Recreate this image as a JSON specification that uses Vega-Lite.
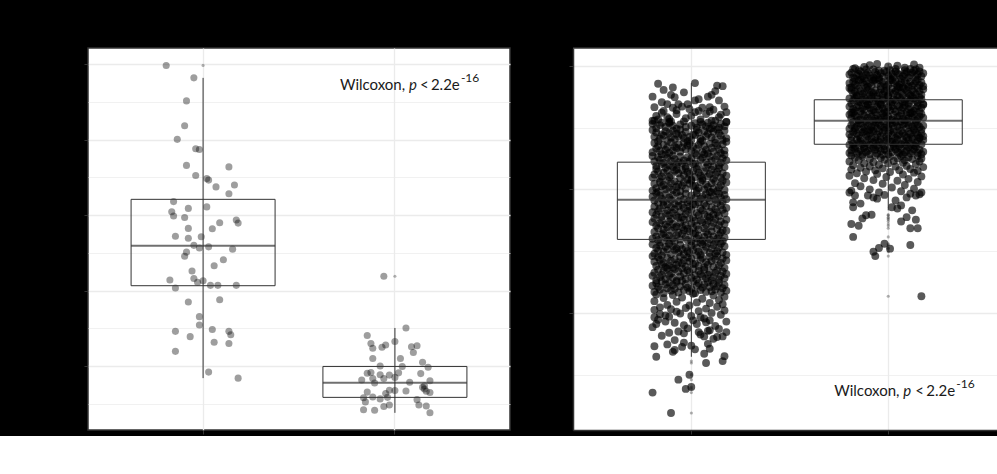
{
"$schema":"https://vega.github.io/schema/vega-lite/v6.json",
"background":"black",
"padding":{"left":82,"top":47,"right":0,"bottom":0},
"spacing":57,
"config":{"view":{"fill":"white","stroke":"#333","strokeWidth":1.5},"axis":{"labels":false,"title":null,"domain":false,"tickColor":"#333","tickSize":4,"gridColor":"#ebebeb"}},
"datasets":{
"lbox":[{"g":"A","lo":168,"q1":413,"med":519,"q3":642,"hi":964},{"g":"B","lo":76,"q1":117,"med":156,"q3":199,"hi":301}],
"lout":[{"g":"A","v":997},{"g":"B","v":438}],
"rbox":[{"g":"A","lo":129,"q1":319,"med":383,"q3":444,"hi":572},{"g":"B","lo":366,"q1":473,"med":511,"q3":545,"hi":603}],
"rout":[{"g":"A","v":122},{"g":"A","v":119},{"g":"A","v":100},{"g":"A","v":92},{"g":"A","v":80},{"g":"A","v":77},{"g":"A","v":71},{"g":"A","v":38},{"g":"B","v":359},{"g":"B","v":358},{"g":"B","v":355},{"g":"B","v":353},{"g":"B","v":351},{"g":"B","v":348},{"g":"B","v":344},{"g":"B","v":341},{"g":"B","v":337},{"g":"B","v":323},{"g":"B","v":312},{"g":"B","v":310},{"g":"B","v":305},{"g":"B","v":304},{"g":"B","v":299},{"g":"B","v":292},{"g":"B","v":227}],
"la":[{"j":-20,"v":997},{"j":-5,"v":964},{"j":-9,"v":903},{"j":-10,"v":837},{"j":-14,"v":801},{"j":-4,"v":776},{"j":-2,"v":774},{"j":-9,"v":732},{"j":14,"v":728},{"j":-4,"v":705},{"j":2,"v":697},{"j":3,"v":693},{"j":7,"v":675},{"j":17,"v":680},{"j":14,"v":657},{"j":-16,"v":636},{"j":-8,"v":618},{"j":2,"v":622},{"j":-17,"v":609},{"j":-16,"v":598},{"j":-10,"v":594},{"j":9,"v":580},{"j":18,"v":587},{"j":19,"v":579},{"j":-8,"v":565},{"j":5,"v":564},{"j":-15,"v":544},{"j":-8,"v":539},{"j":-1,"v":543},{"j":-5,"v":520},{"j":-2,"v":513},{"j":3,"v":516},{"j":16,"v":510},{"j":-9,"v":502},{"j":-10,"v":491},{"j":11,"v":482},{"j":6,"v":466},{"j":-6,"v":452},{"j":-5,"v":432},{"j":-18,"v":428},{"j":-3,"v":422},{"j":0,"v":426},{"j":4,"v":414},{"j":8,"v":414},{"j":18,"v":414},{"j":-15,"v":407},{"j":-8,"v":370},{"j":9,"v":376},{"j":-2,"v":331},{"j":-2,"v":309},{"j":-15,"v":292},{"j":5,"v":297},{"j":14,"v":292},{"j":15,"v":283},{"j":-7,"v":278},{"j":6,"v":263},{"j":14,"v":260},{"j":-15,"v":239},{"j":3,"v":184},{"j":19,"v":168}],
"lb":[{"j":-6,"v":438},{"j":6,"v":301},{"j":-15,"v":281},{"j":-13,"v":260},{"j":-12,"v":247},{"j":-7,"v":250},{"j":-5,"v":256},{"j":0,"v":265},{"j":9,"v":251},{"j":12,"v":254},{"j":10,"v":236},{"j":-12,"v":220},{"j":3,"v":220},{"j":15,"v":210},{"j":-8,"v":200},{"j":4,"v":199},{"j":18,"v":197},{"j":-15,"v":181},{"j":-13,"v":183},{"j":-8,"v":177},{"j":-3,"v":176},{"j":2,"v":182},{"j":14,"v":180},{"j":-18,"v":163},{"j":-12,"v":167},{"j":-6,"v":167},{"j":0,"v":170},{"j":-11,"v":155},{"j":8,"v":157},{"j":19,"v":161},{"j":15,"v":144},{"j":16,"v":139},{"j":-15,"v":131},{"j":-3,"v":136},{"j":0,"v":135},{"j":6,"v":134},{"j":-5,"v":127},{"j":17,"v":133},{"j":19,"v":130},{"j":-17,"v":116},{"j":-12,"v":118},{"j":-8,"v":113},{"j":-4,"v":117},{"j":-16,"v":105},{"j":12,"v":111},{"j":-17,"v":84},{"j":-11,"v":83},{"j":-6,"v":93},{"j":-3,"v":97},{"j":13,"v":97},{"j":17,"v":94},{"j":19,"v":76},{"j":16,"v":148}],
"ra":[
{"j":-17,"v":571},{"j":-14,"v":561},{"j":-9,"v":565},{"j":-3,"v":557},{"j":3,"v":572},{"j":15,"v":568},{"j":18,"v":567},{"j":-20,"v":550},{"j":-10,"v":553},{"j":-8,"v":549},{"j":-15,"v":541},{"j":-12,"v":538},{"j":-6,"v":538},{"j":3,"v":544},{"j":5,"v":546},{"j":10,"v":550},{"j":12,"v":553},{"j":14,"v":559},{"j":16,"v":544},{"j":-19,"v":533},{"j":-14,"v":527},{"j":-9,"v":532},{"j":-4,"v":534},{"j":-1,"v":538},{"j":5,"v":527},{"j":7,"v":532},{"j":11,"v":533},{"j":13,"v":529},{"j":19,"v":534},{"j":20,"v":525},{"j":-18,"v":519},{"j":-12,"v":517},{"j":-7,"v":522},{"j":1,"v":519},{"j":9,"v":522},{"j":16,"v":517},{"j":-20,"v":511},{"j":-11,"v":509},{"j":12,"v":511},{"j":20,"v":509},{"j":-2,"v":515},{"j":6,"v":513},{"j":-15,"v":524},{"j":17,"v":521},{"j":-7,"v":528},{"j":11,"v":526},{"j":0,"v":530},{"j":-17,"v":513},{"j":3,"v":525},{"j":-11,"v":514},
{"j":3,"v":232},{"j":-14,"v":232},{"j":17,"v":233},{"j":-6,"v":233},{"j":9,"v":234},{"j":-19,"v":234},{"j":0,"v":235},{"j":12,"v":235},{"j":-10,"v":236},{"j":20,"v":236},{"j":-3,"v":237},{"j":6,"v":237},{"j":-16,"v":238},{"j":14,"v":238},{"j":-8,"v":239},{"j":1,"v":239},{"j":18,"v":240},{"j":-12,"v":240},{"j":7,"v":241},{"j":-1,"v":241},{"j":-17,"v":242},{"j":11,"v":242},{"j":-5,"v":243},{"j":15,"v":243},{"j":-20,"v":244},{"j":4,"v":244},{"j":-9,"v":245},{"j":19,"v":245},{"j":-13,"v":246},{"j":8,"v":246},{"j":-2,"v":247},{"j":13,"v":247},{"j":-18,"v":248},{"j":5,"v":248},{"j":-11,"v":249},{"j":16,"v":249},{"j":-7,"v":250},{"j":10,"v":250},{"j":-15,"v":251},{"j":2,"v":251},{"j":-4,"v":252},
{"j":-7,"v":252},{"j":12,"v":253},{"j":-18,"v":253},{"j":4,"v":254},{"j":16,"v":254},{"j":-2,"v":255},{"j":-13,"v":255},{"j":9,"v":256},{"j":19,"v":256},{"j":-9,"v":257},{"j":1,"v":257},{"j":-16,"v":258},{"j":13,"v":258},{"j":-5,"v":259},{"j":7,"v":259},{"j":-20,"v":260},{"j":17,"v":260},{"j":-11,"v":261},{"j":3,"v":261},{"j":10,"v":262},{"j":-15,"v":262},{"j":6,"v":263},{"j":20,"v":263},{"j":-3,"v":264},{"j":-10,"v":264},{"j":14,"v":265},{"j":-19,"v":265},{"j":0,"v":266},{"j":11,"v":266},{"j":-6,"v":267},{"j":18,"v":267},{"j":-14,"v":268},{"j":5,"v":268},{"j":-1,"v":269},{"j":15,"v":269},{"j":-17,"v":270},{"j":8,"v":270},{"j":-8,"v":271},{"j":2,"v":271},{"j":-12,"v":272},{"j":-4,"v":272},
{"j":-9,"v":273},{"j":19,"v":273},{"j":-13,"v":274},{"j":8,"v":274},{"j":-2,"v":275},{"j":13,"v":275},{"j":-18,"v":276},{"j":5,"v":276},{"j":-11,"v":277},{"j":16,"v":277},{"j":-7,"v":278},{"j":10,"v":278},{"j":-15,"v":279},{"j":2,"v":279},{"j":-4,"v":280},{"j":3,"v":280},{"j":-14,"v":281},{"j":17,"v":281},{"j":-6,"v":282},{"j":9,"v":282},{"j":-19,"v":283},{"j":0,"v":283},{"j":12,"v":284},{"j":-10,"v":284},{"j":20,"v":285},{"j":-3,"v":285},{"j":6,"v":286},{"j":-16,"v":286},{"j":14,"v":287},{"j":-8,"v":287},{"j":1,"v":288},{"j":18,"v":288},{"j":-12,"v":289},{"j":7,"v":289},{"j":-1,"v":290},{"j":-17,"v":290},{"j":11,"v":291},{"j":-5,"v":291},{"j":15,"v":292},{"j":-20,"v":292},{"j":4,"v":293},
{"j":-15,"v":293},{"j":6,"v":294},{"j":20,"v":294},{"j":-3,"v":295},{"j":-10,"v":295},{"j":14,"v":296},{"j":-19,"v":296},{"j":0,"v":297},{"j":11,"v":297},{"j":-6,"v":298},{"j":18,"v":298},{"j":-14,"v":299},{"j":5,"v":299},{"j":-1,"v":300},{"j":15,"v":300},{"j":-17,"v":301},{"j":8,"v":301},{"j":-8,"v":302},{"j":2,"v":302},{"j":-12,"v":303},{"j":-4,"v":303},{"j":-7,"v":304},{"j":12,"v":304},{"j":-18,"v":305},{"j":4,"v":305},{"j":16,"v":306},{"j":-2,"v":306},{"j":-13,"v":307},{"j":9,"v":307},{"j":19,"v":308},{"j":-9,"v":308},{"j":1,"v":309},{"j":-16,"v":309},{"j":13,"v":310},{"j":-5,"v":310},{"j":7,"v":311},{"j":-20,"v":311},{"j":17,"v":312},{"j":-11,"v":312},{"j":3,"v":313},{"j":10,"v":313},
{"j":6,"v":314},{"j":-16,"v":314},{"j":14,"v":315},{"j":-8,"v":315},{"j":1,"v":316},{"j":18,"v":316},{"j":-12,"v":317},{"j":7,"v":317},{"j":-1,"v":318},{"j":-17,"v":318},{"j":11,"v":319},{"j":-5,"v":319},{"j":15,"v":320},{"j":-20,"v":320},{"j":4,"v":321},{"j":-9,"v":321},{"j":19,"v":322},{"j":-13,"v":322},{"j":8,"v":323},{"j":-2,"v":323},{"j":13,"v":324},{"j":-18,"v":324},{"j":5,"v":325},{"j":-11,"v":325},{"j":16,"v":326},{"j":-7,"v":326},{"j":10,"v":327},{"j":-15,"v":327},{"j":2,"v":328},{"j":-4,"v":328},{"j":3,"v":329},{"j":-14,"v":329},{"j":17,"v":330},{"j":-6,"v":330},{"j":9,"v":331},{"j":-19,"v":331},{"j":0,"v":332},{"j":12,"v":332},{"j":-10,"v":333},{"j":20,"v":333},{"j":-3,"v":334},
{"j":18,"v":334},{"j":-14,"v":335},{"j":5,"v":335},{"j":-1,"v":336},{"j":15,"v":336},{"j":-17,"v":337},{"j":8,"v":337},{"j":-8,"v":338},{"j":2,"v":338},{"j":-12,"v":339},{"j":-4,"v":339},{"j":-7,"v":340},{"j":12,"v":340},{"j":-18,"v":341},{"j":4,"v":341},{"j":16,"v":342},{"j":-2,"v":342},{"j":-13,"v":343},{"j":9,"v":343},{"j":19,"v":344},{"j":-9,"v":344},{"j":1,"v":345},{"j":-16,"v":345},{"j":13,"v":346},{"j":-5,"v":346},{"j":7,"v":347},{"j":-20,"v":347},{"j":17,"v":348},{"j":-11,"v":348},{"j":3,"v":349},{"j":10,"v":349},{"j":-15,"v":350},{"j":6,"v":350},{"j":20,"v":351},{"j":-3,"v":351},{"j":-10,"v":352},{"j":14,"v":352},{"j":-19,"v":353},{"j":0,"v":353},{"j":11,"v":354},{"j":-6,"v":354},
{"j":-4,"v":355},{"j":2,"v":355},{"j":-15,"v":356},{"j":10,"v":356},{"j":-7,"v":357},{"j":16,"v":357},{"j":-11,"v":358},{"j":5,"v":358},{"j":-18,"v":359},{"j":13,"v":359},{"j":-2,"v":360},{"j":8,"v":360},{"j":-13,"v":361},{"j":19,"v":361},{"j":-9,"v":362},{"j":4,"v":362},{"j":-20,"v":363},{"j":15,"v":363},{"j":-5,"v":364},{"j":11,"v":364},{"j":-17,"v":365},{"j":-1,"v":365},{"j":7,"v":366},{"j":-12,"v":366},{"j":18,"v":367},{"j":1,"v":367},{"j":-8,"v":368},{"j":14,"v":368},{"j":-16,"v":369},{"j":6,"v":369},{"j":-3,"v":370},{"j":20,"v":370},{"j":-10,"v":371},{"j":12,"v":371},{"j":0,"v":372},{"j":-19,"v":372},{"j":9,"v":373},{"j":-6,"v":373},{"j":17,"v":374},{"j":-14,"v":374},{"j":3,"v":375},
{"j":-4,"v":375},{"j":-12,"v":376},{"j":2,"v":376},{"j":-8,"v":377},{"j":8,"v":377},{"j":-17,"v":378},{"j":15,"v":378},{"j":-1,"v":379},{"j":5,"v":379},{"j":-14,"v":380},{"j":18,"v":380},{"j":-6,"v":381},{"j":11,"v":381},{"j":0,"v":382},{"j":-19,"v":382},{"j":14,"v":383},{"j":-10,"v":383},{"j":-3,"v":384},{"j":20,"v":384},{"j":6,"v":385},{"j":-15,"v":385},{"j":10,"v":386},{"j":3,"v":386},{"j":-11,"v":387},{"j":17,"v":387},{"j":-20,"v":388},{"j":7,"v":388},{"j":-5,"v":389},{"j":13,"v":389},{"j":-16,"v":390},{"j":1,"v":390},{"j":-9,"v":391},{"j":19,"v":391},{"j":9,"v":392},{"j":-13,"v":392},{"j":-2,"v":393},{"j":16,"v":393},{"j":4,"v":394},{"j":-18,"v":394},{"j":12,"v":395},{"j":-7,"v":395},
{"j":-17,"v":396},{"j":11,"v":396},{"j":-5,"v":397},{"j":15,"v":397},{"j":-20,"v":398},{"j":4,"v":398},{"j":-9,"v":399},{"j":19,"v":399},{"j":-13,"v":400},{"j":8,"v":400},{"j":-2,"v":401},{"j":13,"v":401},{"j":-18,"v":402},{"j":5,"v":402},{"j":-11,"v":403},{"j":16,"v":403},{"j":-7,"v":404},{"j":10,"v":404},{"j":-15,"v":405},{"j":2,"v":405},{"j":-4,"v":406},{"j":3,"v":406},{"j":-14,"v":407},{"j":17,"v":407},{"j":-6,"v":408},{"j":9,"v":408},{"j":-19,"v":409},{"j":0,"v":409},{"j":12,"v":410},{"j":-10,"v":410},{"j":20,"v":411},{"j":-3,"v":411},{"j":6,"v":412},{"j":-16,"v":412},{"j":14,"v":413},{"j":-8,"v":413},{"j":1,"v":414},{"j":18,"v":414},{"j":-12,"v":415},{"j":7,"v":415},{"j":-1,"v":416},
{"j":1,"v":416},{"j":-16,"v":417},{"j":13,"v":417},{"j":-5,"v":418},{"j":7,"v":418},{"j":-20,"v":419},{"j":17,"v":419},{"j":-11,"v":420},{"j":3,"v":420},{"j":10,"v":421},{"j":-15,"v":421},{"j":6,"v":422},{"j":20,"v":422},{"j":-3,"v":423},{"j":-10,"v":423},{"j":14,"v":424},{"j":-19,"v":424},{"j":0,"v":425},{"j":11,"v":425},{"j":-6,"v":426},{"j":18,"v":426},{"j":-14,"v":427},{"j":5,"v":427},{"j":-1,"v":428},{"j":15,"v":428},{"j":-17,"v":429},{"j":8,"v":429},{"j":-8,"v":430},{"j":2,"v":430},{"j":-12,"v":431},{"j":-4,"v":431},{"j":-7,"v":432},{"j":12,"v":432},{"j":-18,"v":433},{"j":4,"v":433},{"j":16,"v":434},{"j":-2,"v":434},{"j":-13,"v":435},{"j":9,"v":435},{"j":19,"v":436},{"j":-9,"v":436},
{"j":-2,"v":437},{"j":13,"v":437},{"j":-18,"v":438},{"j":5,"v":438},{"j":-11,"v":439},{"j":16,"v":439},{"j":-7,"v":440},{"j":10,"v":440},{"j":-15,"v":441},{"j":2,"v":441},{"j":-4,"v":442},{"j":3,"v":442},{"j":-14,"v":443},{"j":17,"v":443},{"j":-6,"v":444},{"j":9,"v":444},{"j":-19,"v":445},{"j":0,"v":445},{"j":12,"v":446},{"j":-10,"v":446},{"j":20,"v":447},{"j":-3,"v":447},{"j":6,"v":448},{"j":-16,"v":448},{"j":14,"v":449},{"j":-8,"v":449},{"j":1,"v":450},{"j":18,"v":450},{"j":-12,"v":451},{"j":7,"v":451},{"j":-1,"v":452},{"j":-17,"v":452},{"j":11,"v":453},{"j":-5,"v":453},{"j":15,"v":454},{"j":-20,"v":454},{"j":4,"v":455},{"j":-9,"v":455},{"j":19,"v":456},{"j":-13,"v":456},{"j":8,"v":457},
{"j":-15,"v":457},{"j":10,"v":458},{"j":3,"v":458},{"j":-11,"v":459},{"j":17,"v":459},{"j":-20,"v":460},{"j":7,"v":460},{"j":-5,"v":461},{"j":13,"v":461},{"j":-16,"v":462},{"j":1,"v":462},{"j":-9,"v":463},{"j":19,"v":463},{"j":9,"v":464},{"j":-13,"v":464},{"j":-2,"v":465},{"j":16,"v":465},{"j":4,"v":466},{"j":-18,"v":466},{"j":12,"v":467},{"j":-7,"v":467},{"j":-4,"v":468},{"j":-12,"v":468},{"j":2,"v":469},{"j":-8,"v":469},{"j":8,"v":470},{"j":-17,"v":470},{"j":15,"v":471},{"j":-1,"v":471},{"j":5,"v":472},{"j":-14,"v":472},{"j":18,"v":473},{"j":-6,"v":473},{"j":11,"v":474},{"j":0,"v":474},{"j":-19,"v":475},{"j":14,"v":475},{"j":-10,"v":476},{"j":-3,"v":476},{"j":20,"v":477},{"j":6,"v":477},
{"j":-17,"v":478},{"j":-1,"v":478},{"j":7,"v":479},{"j":-12,"v":479},{"j":18,"v":480},{"j":1,"v":480},{"j":-8,"v":481},{"j":14,"v":481},{"j":-16,"v":482},{"j":6,"v":482},{"j":-3,"v":483},{"j":20,"v":483},{"j":-10,"v":484},{"j":12,"v":484},{"j":0,"v":485},{"j":-19,"v":485},{"j":9,"v":486},{"j":-6,"v":486},{"j":17,"v":487},{"j":-14,"v":487},{"j":3,"v":488},{"j":-4,"v":488},{"j":2,"v":489},{"j":-15,"v":489},{"j":10,"v":490},{"j":-7,"v":490},{"j":16,"v":491},{"j":-11,"v":491},{"j":5,"v":492},{"j":-18,"v":492},{"j":13,"v":493},{"j":-2,"v":493},{"j":8,"v":494},{"j":-13,"v":494},{"j":19,"v":495},{"j":-9,"v":495},{"j":4,"v":496},{"j":-20,"v":496},{"j":15,"v":497},{"j":-5,"v":497},{"j":11,"v":498},
{"j":-7,"v":498},{"j":12,"v":499},{"j":-18,"v":499},{"j":4,"v":500},{"j":16,"v":500},{"j":-2,"v":501},{"j":-13,"v":501},{"j":9,"v":502},{"j":19,"v":502},{"j":-9,"v":503},{"j":1,"v":503},{"j":-16,"v":504},{"j":13,"v":504},{"j":-5,"v":505},{"j":7,"v":505},{"j":-20,"v":506},{"j":17,"v":506},{"j":-11,"v":507},{"j":3,"v":507},{"j":10,"v":508},{"j":-15,"v":508},{"j":6,"v":509},{"j":20,"v":509},{"j":-3,"v":510},{"j":-10,"v":510},{"j":14,"v":511},{"j":-19,"v":511},
{"j":-18,"v":230},{"j":-9,"v":229},{"j":2,"v":231},{"j":13,"v":228},{"j":19,"v":226},{"j":-14,"v":224},{"j":-4,"v":225},{"j":7,"v":223},{"j":16,"v":221},{"j":-19,"v":219},{"j":-7,"v":218},{"j":4,"v":217},{"j":11,"v":216},{"j":-12,"v":213},{"j":0,"v":212},{"j":18,"v":214},{"j":-16,"v":209},{"j":-2,"v":208},{"j":9,"v":207},{"j":15,"v":210},{"j":-10,"v":206},{"j":5,"v":203},{"j":-19,"v":205},{"j":12,"v":200},{"j":-5,"v":199},{"j":17,"v":197},{"j":-13,"v":196},{"j":1,"v":195},{"j":8,"v":191},{"j":-17,"v":189},{"j":20,"v":186},{"j":-8,"v":184},{"j":4,"v":182},{"j":14,"v":179},{"j":-20,"v":177},{"j":-1,"v":175},{"j":11,"v":172},{"j":-6,"v":170},{"j":6,"v":165},{"j":-15,"v":163},{"j":-3,"v":152},{"j":10,"v":150},{"j":-12,"v":149},{"j":1,"v":147},{"j":-8,"v":140},
{"j":16,"v":174},{"j":20,"v":169},{"j":15,"v":161},{"j":13,"v":158},{"j":18,"v":162},{"j":10,"v":171},{"j":8,"v":162},{"j":5,"v":169},{"j":-3,"v":167},{"j":-8,"v":156},{"j":-11,"v":168},{"j":-18,"v":182},{"j":-13,"v":186},{"j":-3,"v":180},{"j":11,"v":188},{"j":19,"v":204},{"j":-19,"v":193},{"j":-16,"v":198},{"j":-11,"v":194},{"j":-7,"v":202},{"j":2,"v":188},{"j":6,"v":193},{"j":9,"v":185},
{"j":-19,"v":146},{"j":-18,"v":129},{"j":-9,"v":137},{"j":-4,"v":145},{"j":3,"v":141},{"j":11,"v":142},{"j":8,"v":134},{"j":9,"v":119},{"j":18,"v":122},{"j":19,"v":130},{"j":-6,"v":92},{"j":0,"v":100},{"j":-2,"v":77},{"j":1,"v":80},{"j":-20,"v":71},{"j":-10,"v":38}],
"rb":[
{"j":-2,"v":456},{"j":-13,"v":456},{"j":9,"v":456},{"j":19,"v":457},{"j":-9,"v":457},{"j":1,"v":457},{"j":-16,"v":458},{"j":13,"v":458},{"j":-5,"v":458},{"j":7,"v":459},{"j":-20,"v":459},{"j":17,"v":459},{"j":-11,"v":460},{"j":3,"v":460},{"j":10,"v":460},{"j":-15,"v":461},{"j":6,"v":461},{"j":20,"v":461},{"j":-3,"v":462},{"j":-10,"v":462},{"j":14,"v":462},{"j":-19,"v":463},{"j":0,"v":463},{"j":11,"v":463},{"j":-6,"v":464},{"j":18,"v":464},{"j":-14,"v":464},{"j":5,"v":465},{"j":-1,"v":465},{"j":15,"v":465},{"j":-17,"v":466},{"j":8,"v":466},{"j":-8,"v":466},{"j":2,"v":467},{"j":-12,"v":467},{"j":-4,"v":467},{"j":-7,"v":468},{"j":12,"v":468},{"j":-18,"v":468},{"j":4,"v":469},{"j":16,"v":469},{"j":-12,"v":469},
{"j":7,"v":470},{"j":-1,"v":470},{"j":-17,"v":470},{"j":11,"v":471},{"j":-5,"v":471},{"j":15,"v":471},{"j":-20,"v":472},{"j":4,"v":472},{"j":-9,"v":472},{"j":19,"v":473},{"j":-13,"v":473},{"j":8,"v":473},{"j":-2,"v":474},{"j":13,"v":474},{"j":-18,"v":474},{"j":5,"v":475},{"j":-11,"v":475},{"j":16,"v":475},{"j":-7,"v":476},{"j":10,"v":476},{"j":-15,"v":476},{"j":2,"v":477},{"j":-4,"v":477},{"j":3,"v":477},{"j":-14,"v":478},{"j":17,"v":478},{"j":-6,"v":478},{"j":9,"v":479},{"j":-19,"v":479},{"j":0,"v":479},{"j":12,"v":480},{"j":-10,"v":480},{"j":20,"v":480},{"j":-3,"v":481},{"j":6,"v":481},{"j":-16,"v":481},{"j":14,"v":482},{"j":-8,"v":482},{"j":1,"v":482},{"j":18,"v":483},{"j":5,"v":483},{"j":-14,"v":483},
{"j":18,"v":484},{"j":-6,"v":484},{"j":11,"v":484},{"j":0,"v":485},{"j":-19,"v":485},{"j":14,"v":485},{"j":-10,"v":486},{"j":-3,"v":486},{"j":20,"v":486},{"j":6,"v":487},{"j":-15,"v":487},{"j":10,"v":487},{"j":3,"v":488},{"j":-11,"v":488},{"j":17,"v":488},{"j":-20,"v":489},{"j":7,"v":489},{"j":-5,"v":489},{"j":13,"v":490},{"j":-16,"v":490},{"j":1,"v":490},{"j":-9,"v":491},{"j":19,"v":491},{"j":9,"v":491},{"j":-13,"v":492},{"j":-2,"v":492},{"j":16,"v":492},{"j":4,"v":493},{"j":-18,"v":493},{"j":12,"v":493},{"j":-7,"v":494},{"j":-4,"v":494},{"j":-12,"v":494},{"j":2,"v":495},{"j":-8,"v":495},{"j":8,"v":495},{"j":-17,"v":496},{"j":15,"v":496},{"j":-1,"v":496},
{"j":-13,"v":497},{"j":19,"v":497},{"j":-9,"v":497},{"j":4,"v":498},{"j":-20,"v":498},{"j":15,"v":498},{"j":-5,"v":499},{"j":11,"v":499},{"j":-17,"v":499},{"j":-1,"v":500},{"j":7,"v":500},{"j":-12,"v":500},{"j":18,"v":501},{"j":1,"v":501},{"j":-8,"v":501},{"j":14,"v":502},{"j":-16,"v":502},{"j":6,"v":502},{"j":-3,"v":503},{"j":20,"v":503},{"j":-10,"v":503},{"j":12,"v":504},{"j":0,"v":504},{"j":-19,"v":504},{"j":9,"v":505},{"j":-6,"v":505},{"j":17,"v":505},{"j":-14,"v":506},{"j":3,"v":506},{"j":-4,"v":506},{"j":2,"v":507},{"j":-15,"v":507},{"j":10,"v":507},{"j":-7,"v":508},{"j":16,"v":508},{"j":-11,"v":508},{"j":5,"v":509},{"j":-18,"v":509},{"j":13,"v":509},{"j":-2,"v":510},{"j":8,"v":510},{"j":5,"v":510},
{"j":-11,"v":511},{"j":16,"v":511},{"j":-7,"v":511},{"j":10,"v":512},{"j":-15,"v":512},{"j":2,"v":512},{"j":-4,"v":513},{"j":3,"v":513},{"j":-14,"v":513},{"j":17,"v":514},{"j":-6,"v":514},{"j":9,"v":514},{"j":-19,"v":515},{"j":0,"v":515},{"j":12,"v":515},{"j":-10,"v":516},{"j":20,"v":516},{"j":-3,"v":516},{"j":6,"v":517},{"j":-16,"v":517},{"j":14,"v":517},{"j":-8,"v":518},{"j":1,"v":518},{"j":18,"v":518},{"j":-12,"v":519},{"j":7,"v":519},{"j":-1,"v":519},{"j":-17,"v":520},{"j":11,"v":520},{"j":-5,"v":520},{"j":15,"v":521},{"j":-20,"v":521},{"j":4,"v":521},{"j":-9,"v":522},{"j":19,"v":522},{"j":-13,"v":522},{"j":8,"v":523},{"j":-2,"v":523},{"j":13,"v":523},
{"j":-18,"v":524},{"j":14,"v":524},{"j":-19,"v":524},{"j":0,"v":525},{"j":11,"v":525},{"j":-6,"v":525},{"j":18,"v":526},{"j":-14,"v":526},{"j":5,"v":526},{"j":-1,"v":527},{"j":15,"v":527},{"j":-17,"v":527},{"j":8,"v":528},{"j":-8,"v":528},{"j":2,"v":528},{"j":-12,"v":529},{"j":-4,"v":529},{"j":-7,"v":529},{"j":12,"v":530},{"j":-18,"v":530},{"j":4,"v":530},{"j":16,"v":531},{"j":-2,"v":531},{"j":-13,"v":531},{"j":9,"v":532},{"j":19,"v":532},{"j":-9,"v":532},{"j":1,"v":533},{"j":-16,"v":533},{"j":13,"v":533},{"j":-5,"v":534},{"j":7,"v":534},{"j":-20,"v":534},{"j":17,"v":535},{"j":-11,"v":535},{"j":3,"v":535},{"j":10,"v":536},{"j":-15,"v":536},{"j":6,"v":536},{"j":20,"v":537},{"j":-3,"v":537},{"j":-10,"v":537},
{"j":-3,"v":538},{"j":20,"v":538},{"j":-10,"v":538},{"j":12,"v":539},{"j":0,"v":539},{"j":-19,"v":539},{"j":9,"v":540},{"j":-6,"v":540},{"j":17,"v":540},{"j":-14,"v":541},{"j":3,"v":541},{"j":-4,"v":541},{"j":2,"v":542},{"j":-15,"v":542},{"j":10,"v":542},{"j":-7,"v":543},{"j":16,"v":543},{"j":-11,"v":543},{"j":5,"v":544},{"j":-18,"v":544},{"j":13,"v":544},{"j":-2,"v":545},{"j":8,"v":545},{"j":-13,"v":545},{"j":19,"v":546},{"j":-9,"v":546},{"j":4,"v":546},{"j":-20,"v":547},{"j":15,"v":547},{"j":-5,"v":547},{"j":11,"v":548},{"j":-17,"v":548},{"j":-1,"v":548},{"j":7,"v":549},{"j":-12,"v":549},{"j":18,"v":549},{"j":1,"v":550},{"j":-8,"v":550},{"j":14,"v":550},{"j":-16,"v":551},{"j":6,"v":551},{"j":-5,"v":551},
{"j":13,"v":552},{"j":-16,"v":552},{"j":1,"v":552},{"j":-9,"v":553},{"j":19,"v":553},{"j":9,"v":553},{"j":-13,"v":554},{"j":-2,"v":554},{"j":16,"v":554},{"j":4,"v":555},{"j":-18,"v":555},{"j":12,"v":555},{"j":-7,"v":556},{"j":-4,"v":556},{"j":-12,"v":556},{"j":2,"v":557},{"j":-8,"v":557},{"j":8,"v":557},{"j":-17,"v":558},{"j":15,"v":558},{"j":-1,"v":558},{"j":5,"v":559},{"j":-14,"v":559},{"j":18,"v":559},{"j":-6,"v":560},{"j":11,"v":560},{"j":0,"v":560},{"j":-19,"v":561},{"j":14,"v":561},{"j":-10,"v":561},{"j":-3,"v":562},{"j":20,"v":562},{"j":6,"v":562},{"j":-15,"v":563},{"j":10,"v":563},{"j":3,"v":563},{"j":-11,"v":564},{"j":17,"v":564},{"j":-20,"v":564},
{"j":7,"v":565},{"j":9,"v":565},{"j":-19,"v":565},{"j":0,"v":566},{"j":12,"v":566},{"j":-10,"v":566},{"j":20,"v":567},{"j":-3,"v":567},{"j":6,"v":567},{"j":-16,"v":568},{"j":14,"v":568},{"j":-8,"v":568},{"j":1,"v":569},{"j":18,"v":569},{"j":-12,"v":569},{"j":7,"v":570},{"j":-1,"v":570},{"j":-17,"v":570},{"j":11,"v":571},{"j":-5,"v":571},{"j":15,"v":571},{"j":-20,"v":572},{"j":4,"v":572},{"j":-9,"v":572},{"j":19,"v":573},{"j":-13,"v":573},{"j":8,"v":573},{"j":-2,"v":574},{"j":13,"v":574},{"j":-18,"v":574},{"j":5,"v":575},{"j":-11,"v":575},{"j":16,"v":575},{"j":-7,"v":576},{"j":10,"v":576},{"j":-15,"v":576},{"j":2,"v":577},{"j":-4,"v":577},{"j":3,"v":577},{"j":-14,"v":578},{"j":17,"v":578},{"j":-6,"v":578},
{"j":-17,"v":579},{"j":8,"v":579},{"j":-8,"v":579},{"j":2,"v":580},{"j":-12,"v":580},{"j":-4,"v":580},{"j":-7,"v":581},{"j":12,"v":581},{"j":-18,"v":581},{"j":4,"v":582},{"j":16,"v":582},{"j":-2,"v":582},{"j":-13,"v":583},{"j":9,"v":583},{"j":19,"v":583},{"j":-9,"v":584},{"j":1,"v":584},{"j":-16,"v":584},{"j":13,"v":585},{"j":-5,"v":585},{"j":7,"v":585},{"j":-20,"v":586},{"j":17,"v":586},{"j":-11,"v":586},{"j":3,"v":587},{"j":10,"v":587},{"j":-15,"v":587},{"j":6,"v":588},{"j":20,"v":588},{"j":-3,"v":588},{"j":-10,"v":589},{"j":14,"v":589},{"j":-19,"v":589},{"j":0,"v":590},{"j":11,"v":590},{"j":-6,"v":590},{"j":18,"v":591},{"j":-14,"v":591},{"j":5,"v":591},{"j":-1,"v":592},{"j":15,"v":592},{"j":-4,"v":592},
{"j":2,"v":593},{"j":-15,"v":593},{"j":10,"v":593},{"j":-7,"v":594},{"j":16,"v":594},{"j":-11,"v":594},{"j":5,"v":595},{"j":-18,"v":595},{"j":13,"v":595},
{"j":-12,"v":598},{"j":6,"v":600},{"j":15,"v":602},{"j":-5,"v":603},{"j":18,"v":597},{"j":-17,"v":596},{"j":1,"v":599},{"j":10,"v":597},{"j":-9,"v":601},
{"j":-19,"v":455},{"j":-6,"v":455},{"j":8,"v":454},{"j":17,"v":454},{"j":-13,"v":453},{"j":2,"v":453},{"j":12,"v":452},{"j":-3,"v":451},{"j":-17,"v":451},{"j":19,"v":450},{"j":6,"v":450},{"j":-9,"v":449},{"j":14,"v":449},
{"j":-1,"v":448},{"j":-15,"v":447},{"j":10,"v":447},{"j":4,"v":446},{"j":-20,"v":445},{"j":18,"v":445},{"j":-7,"v":444},{"j":9,"v":443},{"j":-12,"v":442},{"j":1,"v":442},{"j":16,"v":441},{"j":-4,"v":440},{"j":-18,"v":439},{"j":11,"v":438},{"j":-9,"v":437},{"j":5,"v":437},{"j":20,"v":436},{"j":-14,"v":435},{"j":-2,"v":434},{"j":13,"v":433},{"j":-19,"v":432},{"j":7,"v":431},{"j":-6,"v":431},{"j":17,"v":430},{"j":-11,"v":429},{"j":2,"v":428},{"j":15,"v":427},{"j":-16,"v":426},{"j":-5,"v":425},{"j":9,"v":424},
{"j":-20,"v":422},{"j":19,"v":421},{"j":0,"v":420},{"j":-12,"v":418},{"j":12,"v":417},{"j":-7,"v":415},{"j":6,"v":414},{"j":17,"v":412},{"j":-17,"v":410},{"j":-2,"v":409},{"j":10,"v":407},{"j":-14,"v":405},{"j":3,"v":403},{"j":15,"v":401},{"j":-9,"v":400},{"j":-19,"v":398},{"j":8,"v":397},{"j":-4,"v":395},{"j":13,"v":393},{"j":18,"v":392},{"j":-1,"v":391},
{"j":-18,"v":323},{"j":-7,"v":299},{"j":-4,"v":305},{"j":-6,"v":292},{"j":-1,"v":312},{"j":2,"v":304},{"j":13,"v":310},{"j":-19,"v":344},{"j":-15,"v":341},{"j":-13,"v":353},{"j":-11,"v":358},{"j":-8,"v":359},{"j":8,"v":348},{"j":11,"v":355},{"j":13,"v":337},{"j":16,"v":351},{"j":17,"v":337},{"j":6,"v":369},{"j":3,"v":371},{"j":-18,"v":371},{"j":-18,"v":379},{"j":-14,"v":377},{"j":-5,"v":385},{"j":11,"v":387},{"j":16,"v":390},{"j":19,"v":395},{"j":-20,"v":395},{"j":-17,"v":390},{"j":-10,"v":390},{"j":-7,"v":387},{"j":5,"v":382},{"j":8,"v":374},{"j":14,"v":366},{"j":19,"v":227}]
},
"hconcat":[
{"width":422,"height":382,
"layer":[
{"data":{"name":"la"},"mark":{"type":"circle","size":50,"color":"black","opacity":0.38},"encoding":{"x":{"datum":"A","type":"nominal"},"xOffset":{"field":"j","type":"quantitative","scale":{"domain":[-37.5,37.5],"nice":false,"zero":false}},"y":{"field":"v","type":"quantitative"}}},
{"data":{"name":"lb"},"mark":{"type":"circle","size":50,"color":"black","opacity":0.38},"encoding":{"x":{"datum":"B","type":"nominal"},"xOffset":{"field":"j","type":"quantitative"},"y":{"field":"v","type":"quantitative"}}},
{"data":{"name":"lbox"},"mark":{"type":"rule","color":"#333","strokeWidth":1},
"encoding":{"x":{"field":"g","type":"nominal","scale":{"type":"band","paddingInner":0.25,"paddingOuter":0.225},"axis":{"grid":true,"gridWidth":1.3,"bandPosition":0.5,"ticks":true}},
"y":{"field":"lo","type":"quantitative","scale":{"domain":[30.5,1043.2],"nice":false,"zero":false},"axis":{"values":[100,200,300,400,500,600,700,800,900,1000],"grid":true,"gridWidth":{"condition":{"test":"datum.value % 200 === 0","value":1.3},"value":0.7},"tickOpacity":{"condition":{"test":"datum.value % 200 === 0","value":1},"value":0}}},
"y2":{"field":"hi"}}},
{"data":{"name":"lbox"},"mark":{"type":"bar","filled":false,"color":"#333","strokeWidth":1,"width":144},"encoding":{"x":{"field":"g","type":"nominal"},"y":{"field":"q1","type":"quantitative"},"y2":{"field":"q3"}}},
{"data":{"name":"lbox"},"mark":{"type":"tick","color":"#333","thickness":2,"size":144},"encoding":{"x":{"field":"g","type":"nominal"},"y":{"field":"med","type":"quantitative"}}},
{"data":{"name":"lout"},"mark":{"type":"circle","size":10,"color":"black","opacity":0.3},"encoding":{"x":{"field":"g","type":"nominal"},"y":{"field":"v","type":"quantitative"}}},
{"data":{"values":[{"t":"Wilcoxon,"}]},"mark":{"type":"text","font":"Lato","fontSize":15,"color":"#1a1a1a","align":"left","baseline":"alphabetic","dx":-55},"encoding":{"text":{"field":"t"},"x":{"datum":"B","type":"nominal"},"y":{"datum":933,"type":"quantitative"}}},
{"data":{"values":[{"t":"p"}]},"mark":{"type":"text","font":"Lato","fontSize":15,"fontStyle":"italic","color":"#1a1a1a","align":"left","baseline":"alphabetic","dx":14},"encoding":{"text":{"field":"t"},"x":{"datum":"B","type":"nominal"},"y":{"datum":933,"type":"quantitative"}}},
{"data":{"values":[{"t":"<"}]},"mark":{"type":"text","font":"Lato","fontSize":15,"color":"#1a1a1a","align":"left","baseline":"alphabetic","dx":25},"encoding":{"text":{"field":"t"},"x":{"datum":"B","type":"nominal"},"y":{"datum":933,"type":"quantitative"}}},
{"data":{"values":[{"t":"2.2e"}]},"mark":{"type":"text","font":"Lato","fontSize":15,"color":"#1a1a1a","align":"left","baseline":"alphabetic","dx":36},"encoding":{"text":{"field":"t"},"x":{"datum":"B","type":"nominal"},"y":{"datum":933,"type":"quantitative"}}},
{"data":{"values":[{"t":"-16"}]},"mark":{"type":"text","font":"Lato","fontSize":12,"color":"#1a1a1a","align":"left","baseline":"alphabetic","dx":66,"dy":-8},"encoding":{"text":{"field":"t"},"x":{"datum":"B","type":"nominal"},"y":{"datum":933,"type":"quantitative"}}}
]},
{"width":424,"height":382,"view":{"stroke":null},
"layer":[
{"data":{"name":"ra"},"mark":{"type":"circle","size":62,"color":"black","opacity":0.65},"encoding":{"x":{"datum":"A","type":"nominal"},"xOffset":{"field":"j","type":"quantitative","scale":{"domain":[-39,39],"nice":false,"zero":false}},"y":{"field":"v","type":"quantitative"}}},
{"data":{"name":"rb"},"mark":{"type":"circle","size":62,"color":"black","opacity":0.65},"encoding":{"x":{"datum":"B","type":"nominal"},"xOffset":{"field":"j","type":"quantitative"},"y":{"field":"v","type":"quantitative"}}},
{"data":{"name":"rbox"},"mark":{"type":"rule","color":"#333","strokeWidth":1},
"encoding":{"x":{"field":"g","type":"nominal","scale":{"type":"band","paddingInner":0.25,"paddingOuter":0.2017,"align":0.5605},"axis":{"grid":true,"gridWidth":1.3,"bandPosition":0.5,"domain":true,"domainColor":"#333","domainWidth":1.5}},
"y":{"field":"lo","type":"quantitative","scale":{"domain":[10.5,628.8],"nice":false,"zero":false},"axis":{"values":[100,200,300,400,500,600],"grid":true,"domain":true,"domainColor":"#333","domainWidth":1.5,"gridWidth":{"condition":{"test":"datum.value % 200 === 0","value":1.3},"value":0.7},"tickOpacity":{"condition":{"test":"datum.value % 200 === 0","value":1},"value":0}}},
"y2":{"field":"hi"}}},
{"data":{"values":[{}]},"mark":{"type":"rule","color":"#333","strokeWidth":1.5},"encoding":{"y":{"datum":628.8,"type":"quantitative"}}},
{"data":{"name":"rbox"},"mark":{"type":"bar","filled":false,"color":"#333","strokeWidth":1,"width":148},"encoding":{"x":{"field":"g","type":"nominal"},"y":{"field":"q1","type":"quantitative"},"y2":{"field":"q3"}}},
{"data":{"name":"rbox"},"mark":{"type":"tick","color":"#333","thickness":2,"size":148},"encoding":{"x":{"field":"g","type":"nominal"},"y":{"field":"med","type":"quantitative"}}},
{"data":{"name":"rout"},"mark":{"type":"circle","size":10,"color":"black","opacity":0.3},"encoding":{"x":{"field":"g","type":"nominal"},"y":{"field":"v","type":"quantitative"}}},
{"data":{"values":[{"t":"Wilcoxon,"}]},"mark":{"type":"text","font":"Lato","fontSize":15,"color":"#1a1a1a","align":"left","baseline":"alphabetic","dx":-54},"encoding":{"text":{"field":"t"},"x":{"datum":"B","type":"nominal"},"y":{"datum":66,"type":"quantitative"}}},
{"data":{"values":[{"t":"p"}]},"mark":{"type":"text","font":"Lato","fontSize":15,"fontStyle":"italic","color":"#1a1a1a","align":"left","baseline":"alphabetic","dx":15},"encoding":{"text":{"field":"t"},"x":{"datum":"B","type":"nominal"},"y":{"datum":66,"type":"quantitative"}}},
{"data":{"values":[{"t":"<"}]},"mark":{"type":"text","font":"Lato","fontSize":15,"color":"#1a1a1a","align":"left","baseline":"alphabetic","dx":27},"encoding":{"text":{"field":"t"},"x":{"datum":"B","type":"nominal"},"y":{"datum":66,"type":"quantitative"}}},
{"data":{"values":[{"t":"2.2e"}]},"mark":{"type":"text","font":"Lato","fontSize":15,"color":"#1a1a1a","align":"left","baseline":"alphabetic","dx":38},"encoding":{"text":{"field":"t"},"x":{"datum":"B","type":"nominal"},"y":{"datum":66,"type":"quantitative"}}},
{"data":{"values":[{"t":"-16"}]},"mark":{"type":"text","font":"Lato","fontSize":12,"color":"#1a1a1a","align":"left","baseline":"alphabetic","dx":68,"dy":-8},"encoding":{"text":{"field":"t"},"x":{"datum":"B","type":"nominal"},"y":{"datum":66,"type":"quantitative"}}}
]}
]
}
